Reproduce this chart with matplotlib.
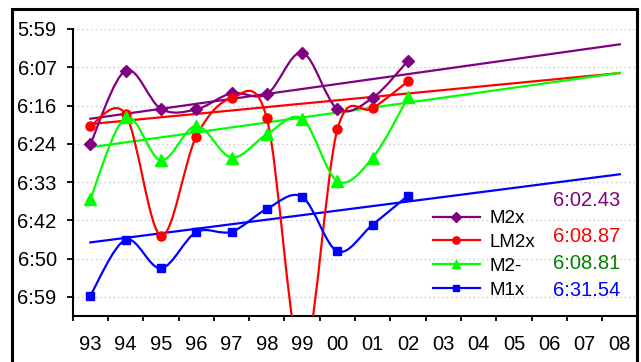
import numpy as np
import matplotlib
matplotlib.use("Agg")
import matplotlib.pyplot as plt
from matplotlib.path import Path
from matplotlib.patches import PathPatch, Rectangle
from matplotlib.lines import Line2D

plt.rcParams['font.family'] = ['Liberation Sans', 'DejaVu Sans']

# Seasons on the category axis
years = ['93', '94', '95', '96', '97', '98', '99', '00', '01', '02',
         '03', '04', '05', '06', '07', '08']

# Times in seconds per season (93..02)
m2x = [384.8, 368.3, 376.9, 377.0, 373.4, 373.6, 364.3, 376.9, 374.4, 366.1]
lm2x = [380.7, 378.1, 405.3, 383.1, 374.5, 379.0, 433.0, 381.4, 376.8, 370.7]
m2_ = [397.1, 378.8, 388.4, 380.7, 387.8, 382.6, 379.1, 393.1, 387.8, 374.3]
m1x = [418.7, 406.2, 412.6, 404.5, 404.4, 399.3, 396.6, 408.8, 402.8, 396.3]

# Trend values at the first (93) and last (08) season
trend_start = [379.1, 380.3, 385.5, 406.8]
trend_end = [362.43, 368.87, 368.81, 391.54]
trend_labels = ['6:02.43', '6:08.87', '6:08.81', '6:31.54']

names = ['M2x', 'LM2x', 'M2-', 'M1x']
line_colors = ['#800080', '#FF0000', '#00FF00', '#0000FF']
text_colors = ['#800080', '#FF0000', '#008000', '#0000FF']
markers = ['D', 'o', '^', 's']
marker_sizes = [6.5, 6.5, 8, 6]

y_ticks = [359 + k * 60 / 7 for k in range(8)]
y_ticklabels = ['5:59', '6:07', '6:16', '6:24', '6:33', '6:42', '6:50', '6:59']


def smooth_path(xs, ys):
    """Cubic Bezier path through the points (Catmull-Rom style tangents)."""
    pts = np.column_stack([xs, ys]).astype(float)
    n = len(pts)
    verts = [pts[0]]
    codes = [Path.MOVETO]
    for i in range(n - 1):
        p0 = pts[i - 1] if i > 0 else pts[i]
        p1 = pts[i]
        p2 = pts[i + 1]
        p3 = pts[i + 2] if i + 2 < n else pts[i + 1]
        c1 = p1 + (p2 - p0) / 6.0
        c2 = p2 - (p3 - p1) / 6.0
        verts += [c1, c2, p2]
        codes += [Path.CURVE4] * 3
    return Path(verts, codes)


W, H = 641, 362
fig = plt.figure(figsize=(W / 100, H / 100), dpi=100)
fig.patch.set_facecolor('white')

left, right, top, bottom = 72.7, 637.5, 29.0, 316.0
ax = fig.add_axes([left / W, 1 - bottom / H, (right - left) / W, (bottom - top) / H])
ax.set_facecolor('white')

ax.set_xlim(-0.5, len(years) - 0.5)
ax.set_ylim(359 + 60 / 7 * 7.5, 359)

# gridlines
for yv in y_ticks:
    ax.axhline(yv, color='#c8c8c8', lw=1.0, ls=(0, (1, 2.2)), zorder=0)

series = [m2x, lm2x, m2_, m1x]
handles = []
for vals, col, mk, ms, name in zip(series, line_colors, markers, marker_sizes, names):
    xs = np.arange(len(vals))
    patch = PathPatch(smooth_path(xs, vals), facecolor='none', edgecolor=col,
                      lw=1.6, zorder=3)
    ax.add_patch(patch)
    ax.plot(xs, vals, ls='none', marker=mk, ms=ms, color=col, mec=col, zorder=4)
    handles.append(Line2D([], [], color=col, lw=1.6, marker=mk, ms=ms * 0.8,
                          mec=col, label=name))

# trend lines to 08
for s, e, col in zip(trend_start, trend_end, line_colors):
    ax.plot([0, len(years) - 1], [s, e], color=col, lw=1.6, zorder=2)

# axes styling
for side in ['top', 'right']:
    ax.spines[side].set_visible(False)
for side in ['left', 'bottom']:
    ax.spines[side].set_linewidth(1.5)
    ax.spines[side].set_color('black')

ax.set_yticks(y_ticks)
ax.set_yticklabels(y_ticklabels, fontsize=14.5)
ax.tick_params(axis='y', direction='out', length=4.5, width=1.3, pad=7)

ax.set_xticks(np.arange(-0.5, len(years)), minor=False)
ax.set_xticklabels([])
ax.set_xticks(np.arange(len(years)), minor=True)
ax.set_xticklabels(years, minor=True, fontsize=14.5)
ax.tick_params(axis='x', which='major', direction='out', length=3.5, width=1.3)
ax.tick_params(axis='x', which='minor', length=0, pad=14)

# legend
fig.legend(handles=handles, loc='upper left',
           bbox_to_anchor=(433 / W, 1 - 210 / H),
           frameon=False, fontsize=13.5, handlelength=2.5, handletextpad=0.5,
           labelspacing=0.36, borderpad=0, borderaxespad=0)

# trend end values
label_y = [200.7, 236.0, 263.3, 290.0]
for txt, col, yp in zip(trend_labels, text_colors, label_y):
    fig.text(620 / W, 1 - yp / H, txt, color=col, fontsize=14.5,
             ha='right', va='center')

# outer frame
fig.patches.append(Rectangle((12.3 / W, -0.05), (636.5 - 12.3) / W, 1.05 - 9 / H,
                             transform=fig.transFigure, fill=False,
                             edgecolor='black', lw=2.2, zorder=10))

fig.savefig('out.png', dpi=100, facecolor='white')
